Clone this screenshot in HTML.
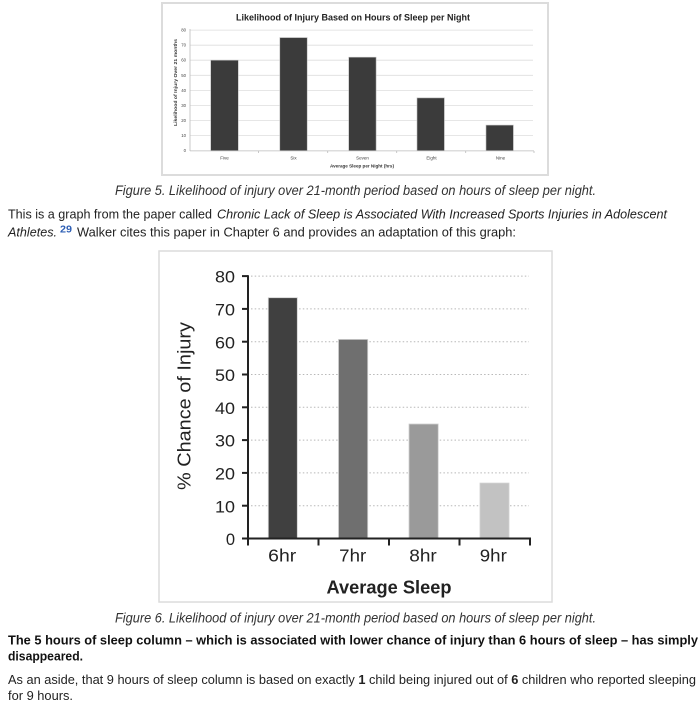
<!DOCTYPE html>
<html>
<head>
<meta charset="utf-8">
<style>
html,body{margin:0;padding:0;background:#fff;}
body{width:700px;height:721px;overflow:hidden;}
svg{display:block;}
text{font-family:"Liberation Sans", sans-serif;}
</style>
</head>
<body>
<svg width="700" height="721" viewBox="0 0 700 721" xmlns="http://www.w3.org/2000/svg">
  <!-- ===== Top chart ===== -->
  <rect x="162" y="3" width="386" height="172" fill="#fff" stroke="#dcdcdc" stroke-width="2"/>
  <text x="353" y="20.5" font-size="9.5" font-weight="bold" fill="#222" text-anchor="middle" textLength="234" lengthAdjust="spacingAndGlyphs">Likelihood of Injury Based on Hours of Sleep per Night</text>
  <g stroke="#dedede" stroke-width="0.8">
    <line x1="190" y1="30.1" x2="533" y2="30.1"/>
    <line x1="190" y1="45.2" x2="533" y2="45.2"/>
    <line x1="190" y1="60.2" x2="533" y2="60.2"/>
    <line x1="190" y1="75.3" x2="533" y2="75.3"/>
    <line x1="190" y1="90.4" x2="533" y2="90.4"/>
    <line x1="190" y1="105.5" x2="533" y2="105.5"/>
    <line x1="190" y1="120.6" x2="533" y2="120.6"/>
    <line x1="190" y1="135.6" x2="533" y2="135.6"/>
  </g>
  <line x1="190" y1="150.9" x2="534" y2="150.9" stroke="#bbb" stroke-width="0.8"/>
  <line x1="190" y1="29" x2="190" y2="151" stroke="#bbb" stroke-width="0.8"/>
  <g stroke="#bbb" stroke-width="0.8">
    <line x1="258.5" y1="151" x2="258.5" y2="153"/>
    <line x1="327.7" y1="151" x2="327.7" y2="153"/>
    <line x1="396.7" y1="151" x2="396.7" y2="153"/>
    <line x1="465.7" y1="151" x2="465.7" y2="153"/>
    <line x1="534" y1="151" x2="534" y2="153"/>
  </g>
  <g font-size="4.3" fill="#444" text-anchor="end">
    <text x="186" y="31.6">80</text>
    <text x="186" y="46.7">70</text>
    <text x="186" y="61.7">60</text>
    <text x="186" y="76.8">50</text>
    <text x="186" y="91.9">40</text>
    <text x="186" y="107">30</text>
    <text x="186" y="122.1">20</text>
    <text x="186" y="137.1">10</text>
    <text x="186" y="152.2">0</text>
  </g>
  <text transform="translate(177,82.5) rotate(-90)" font-size="4.5" font-weight="bold" fill="#333" text-anchor="middle" textLength="87" lengthAdjust="spacingAndGlyphs">Likelihood of Injury Over 21 months</text>
  <g fill="#3b3b3b" stroke="#bdbdbd" stroke-width="0.6">
    <rect x="210.7" y="60.2" width="27.6" height="90.5"/>
    <rect x="279.8" y="37.6" width="27.4" height="113.1"/>
    <rect x="348.7" y="57.2" width="27.4" height="93.5"/>
    <rect x="417" y="97.9" width="27.4" height="52.8"/>
    <rect x="486" y="125.1" width="27.4" height="25.6"/>
  </g>
  <g font-size="4.5" fill="#444" text-anchor="middle">
    <text x="224.5" y="159.5">Five</text>
    <text x="293.5" y="159.5">Six</text>
    <text x="362.5" y="159.5">Seven</text>
    <text x="431.5" y="159.5">Eight</text>
    <text x="500.5" y="159.5">Nine</text>
  </g>
  <text x="362" y="167.5" font-size="4.5" font-weight="bold" fill="#333" text-anchor="middle" textLength="64" lengthAdjust="spacingAndGlyphs">Average Sleep per Night (hrs)</text>

  <!-- ===== Caption 5 & paragraph ===== -->
  <text x="115" y="195" font-size="13.5" font-style="italic" fill="#333" textLength="481" lengthAdjust="spacingAndGlyphs">Figure 5. Likelihood of injury over 21-month period based on hours of sleep per night.</text>
  <text x="8" y="218.7" font-size="13.3" fill="#222" textLength="204" lengthAdjust="spacingAndGlyphs">This is a graph from the paper called</text>
  <text x="217" y="218.7" font-size="13.3" font-style="italic" fill="#222" textLength="450" lengthAdjust="spacingAndGlyphs">Chronic Lack of Sleep is Associated With Increased Sports Injuries in Adolescent</text>
  <text x="8" y="236.3" font-size="13.3" font-style="italic" fill="#222" textLength="49" lengthAdjust="spacingAndGlyphs">Athletes.</text>
  <text x="60" y="232.5" font-size="10" font-weight="bold" fill="#2e5fb5" textLength="12" lengthAdjust="spacingAndGlyphs">29</text>
  <text x="77" y="236.3" font-size="13.3" fill="#222" textLength="439" lengthAdjust="spacingAndGlyphs">Walker cites this paper in Chapter 6 and provides an adaptation of this graph:</text>

  <!-- ===== Bottom chart ===== -->
  <rect x="159" y="251" width="393" height="351" fill="#fff" stroke="#dcdcdc" stroke-width="1.5"/>
  <g stroke="#b8b8b8" stroke-width="1" stroke-dasharray="1.5 2.2">
    <line x1="251" y1="276.1" x2="529" y2="276.1"/>
    <line x1="251" y1="308.9" x2="529" y2="308.9"/>
    <line x1="251" y1="341.7" x2="529" y2="341.7"/>
    <line x1="251" y1="374.5" x2="529" y2="374.5"/>
    <line x1="251" y1="407.3" x2="529" y2="407.3"/>
    <line x1="251" y1="440.1" x2="529" y2="440.1"/>
    <line x1="251" y1="472.9" x2="529" y2="472.9"/>
    <line x1="251" y1="505.7" x2="529" y2="505.7"/>
  </g>
  <g stroke="#d0d0d0" stroke-width="0.8">
    <rect x="268.3" y="297.7" width="29" height="240.8" fill="#404040"/>
    <rect x="338.5" y="339.4" width="29.2" height="199.1" fill="#6f6f6f"/>
    <rect x="409" y="424" width="29.2" height="114.5" fill="#9a9a9a"/>
    <rect x="480" y="483.1" width="29" height="55.4" fill="#c2c2c2"/>
  </g>
  <g stroke="#222" stroke-width="2" fill="none">
    <line x1="248" y1="275.2" x2="248" y2="539.5"/>
    <line x1="247" y1="538.5" x2="531" y2="538.5"/>
    <line x1="242" y1="276.1" x2="248" y2="276.1"/>
    <line x1="242" y1="308.9" x2="248" y2="308.9"/>
    <line x1="242" y1="341.7" x2="248" y2="341.7"/>
    <line x1="242" y1="374.5" x2="248" y2="374.5"/>
    <line x1="242" y1="407.3" x2="248" y2="407.3"/>
    <line x1="242" y1="440.1" x2="248" y2="440.1"/>
    <line x1="242" y1="472.9" x2="248" y2="472.9"/>
    <line x1="242" y1="505.7" x2="248" y2="505.7"/>
    <line x1="242" y1="538.5" x2="248" y2="538.5"/>
    <line x1="248" y1="538.5" x2="248" y2="545.5"/>
    <line x1="318.5" y1="538.5" x2="318.5" y2="545.5"/>
    <line x1="389" y1="538.5" x2="389" y2="545.5"/>
    <line x1="459.5" y1="538.5" x2="459.5" y2="545.5"/>
    <line x1="530" y1="538.5" x2="530" y2="545.5"/>
  </g>
  <g font-size="16.5" fill="#222" text-anchor="end">
    <text x="235" y="282.7" textLength="20" lengthAdjust="spacingAndGlyphs">80</text>
    <text x="235" y="315.5" textLength="20" lengthAdjust="spacingAndGlyphs">70</text>
    <text x="235" y="348.3" textLength="20" lengthAdjust="spacingAndGlyphs">60</text>
    <text x="235" y="381.1" textLength="20" lengthAdjust="spacingAndGlyphs">50</text>
    <text x="235" y="413.9" textLength="20" lengthAdjust="spacingAndGlyphs">40</text>
    <text x="235" y="446.7" textLength="20" lengthAdjust="spacingAndGlyphs">30</text>
    <text x="235" y="479.5" textLength="20" lengthAdjust="spacingAndGlyphs">20</text>
    <text x="235" y="512.3" textLength="20" lengthAdjust="spacingAndGlyphs">10</text>
    <text x="235" y="545.1">0</text>
  </g>
  <text transform="translate(190.5,406) rotate(-90)" font-size="18.5" fill="#222" text-anchor="middle" textLength="168" lengthAdjust="spacingAndGlyphs">% Chance of Injury</text>
  <g font-size="17.5" fill="#222" text-anchor="middle">
    <text x="282.2" y="561.7" textLength="28" lengthAdjust="spacingAndGlyphs">6hr</text>
    <text x="352.7" y="561.7" textLength="27" lengthAdjust="spacingAndGlyphs">7hr</text>
    <text x="423" y="561.7" textLength="27.5" lengthAdjust="spacingAndGlyphs">8hr</text>
    <text x="493.3" y="561.7" textLength="27" lengthAdjust="spacingAndGlyphs">9hr</text>
  </g>
  <text x="389" y="593.3" font-size="18.5" font-weight="bold" fill="#222" text-anchor="middle" textLength="125" lengthAdjust="spacingAndGlyphs">Average Sleep</text>

  <!-- ===== Caption 6 & text ===== -->
  <text x="115" y="622.3" font-size="13.5" font-style="italic" fill="#333" textLength="481" lengthAdjust="spacingAndGlyphs">Figure 6. Likelihood of injury over 21-month period based on hours of sleep per night.</text>
  <text x="8" y="644.3" font-size="13.3" font-weight="bold" fill="#111" textLength="690" lengthAdjust="spacingAndGlyphs">The 5 hours of sleep column – which is associated with lower chance of injury than 6 hours of sleep – has simply</text>
  <text x="8" y="660.3" font-size="13.3" font-weight="bold" fill="#111" textLength="75" lengthAdjust="spacingAndGlyphs">disappeared.</text>
  <text x="8" y="684" font-size="13.3" fill="#222" textLength="688" lengthAdjust="spacingAndGlyphs">As an aside, that 9 hours of sleep column is based on exactly <tspan font-weight="bold">1</tspan> child being injured out of <tspan font-weight="bold">6</tspan> children who reported sleeping</text>
  <text x="8" y="700" font-size="13.3" fill="#222" textLength="65" lengthAdjust="spacingAndGlyphs">for 9 hours.</text>
</svg>
</body>
</html>
